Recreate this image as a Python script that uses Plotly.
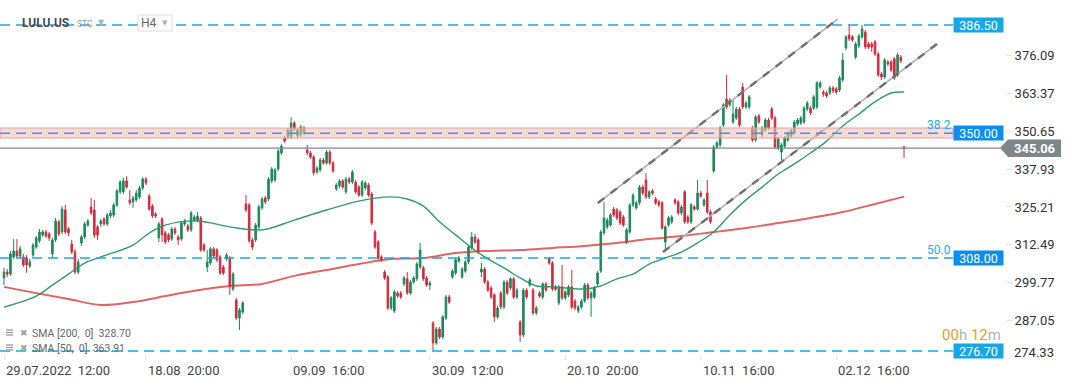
import plotly.graph_objects as go

# ---------------- data (H4 candles, LULU.US) ----------------
open_ = [
301.3, 303.3, 302.6, 308.4, 310.4, 308.7, 308.4, 308.0, 305.3, 309.0,
311.7, 313.8, 315.8, 316.8, 316.1, 309.4, 314.1, 320.2, 316.8, 324.2,
317.8, 312.7, 310.1, 303.3, 313.1, 315.1, 319.1, 325.2, 324.2, 318.5,
319.5, 321.2, 319.5, 322.2, 322.5, 325.9, 330.3, 330.3, 334.0, 327.6,
326.9, 327.6, 328.6, 331.6, 334.6, 328.9, 325.5, 322.8, 314.8, 321.2,
316.5, 315.8, 314.4, 317.8, 315.1, 314.4, 319.5, 318.8, 317.5, 320.8,
320.8, 321.5, 312.4, 305.0, 306.3, 311.1, 310.7, 308.4, 305.0, 307.7,
308.0, 297.6, 293.9, 287.8, 289.8, 326.2, 325.9, 314.1, 314.1, 318.5,
324.9, 328.2, 327.9, 334.0, 334.3, 338.0, 343.4, 348.4, 348.8, 348.8,
353.5, 349.1, 349.5, 350.1, 344.4, 343.4, 342.0, 337.0, 337.7, 341.0,
340.0, 343.7, 340.0, 331.3, 332.3, 334.0, 330.3, 334.6, 333.6, 333.6,
331.9, 329.2, 331.6, 332.6, 329.6, 316.8, 313.4, 308.4, 303.3, 301.6,
291.2, 290.2, 296.2, 296.2, 299.3, 301.0, 296.2, 299.9, 301.0, 305.0,
304.7, 301.3, 298.9, 286.1, 279.4, 284.1, 281.4, 287.8, 294.9, 301.6,
303.0, 307.0, 301.6, 303.6, 306.7, 311.4, 315.1, 314.1, 303.3, 304.3,
299.9, 297.9, 295.6, 288.2, 296.2, 291.5, 299.9, 297.9, 301.0, 294.9,
286.5, 282.1, 297.2, 298.9, 297.2, 289.5, 296.2, 294.9, 299.3, 307.7,
306.3, 298.3, 292.9, 298.3, 294.6, 295.6, 298.3, 293.5, 290.2, 291.5,
293.5, 298.9, 294.6, 294.9, 299.3, 303.6, 316.5, 318.5, 319.1, 324.5,
324.2, 323.5, 321.8, 313.4, 316.8, 325.9, 324.9, 326.6, 331.9, 334.3,
328.6, 330.6, 327.9, 326.9, 326.6, 313.4, 319.1, 320.2, 327.6, 326.9,
323.2, 330.3, 321.8, 320.2, 325.2, 324.5, 329.9, 325.9, 329.9, 323.5,
337.3, 345.4, 346.1, 352.8, 361.6, 359.6, 353.8, 355.2, 358.2, 365.6,
358.9, 358.9, 351.8, 347.8, 355.9, 349.5, 351.1, 354.5, 358.2, 355.2,
345.1, 343.7, 345.7, 347.8, 349.1, 350.1, 353.2, 353.5, 353.8, 358.2,
358.5, 358.5, 358.9, 365.6, 363.9, 363.6, 363.6, 365.3, 365.0, 364.6,
368.0, 378.8, 383.1, 382.5, 375.7, 379.4, 382.5, 384.1, 380.1, 380.1,
380.8, 376.7, 370.0, 369.0, 374.0, 374.0, 375.1, 369.7, 375.7, 345.4,
]
high = [
304.7, 304.3, 310.4, 314.4, 314.4, 312.1, 309.4, 309.0, 307.7, 313.1,
315.4, 317.8, 317.5, 317.5, 316.8, 314.8, 321.5, 320.8, 325.5, 325.9,
318.5, 314.1, 311.1, 307.7, 315.8, 320.2, 321.2, 328.2, 327.6, 319.1,
321.2, 321.8, 323.2, 324.2, 326.6, 331.3, 334.3, 335.0, 335.6, 330.9,
328.9, 330.9, 332.3, 335.3, 335.3, 329.6, 326.2, 323.5, 320.2, 321.8,
317.1, 316.5, 318.5, 318.5, 315.8, 320.5, 321.2, 319.5, 323.9, 322.5,
323.5, 322.2, 313.1, 310.7, 311.7, 311.7, 311.4, 309.0, 305.7, 309.7,
308.7, 303.3, 294.6, 291.2, 293.5, 329.2, 326.6, 314.8, 319.8, 325.9,
328.6, 328.9, 335.3, 338.7, 338.3, 344.7, 346.4, 349.1, 351.8, 355.5,
354.2, 351.8, 352.8, 352.5, 346.1, 344.1, 342.7, 339.0, 341.7, 341.7,
344.4, 344.4, 340.7, 333.3, 334.6, 334.6, 335.3, 335.3, 337.7, 334.3,
332.6, 334.3, 333.9, 333.3, 330.3, 317.5, 314.1, 309.0, 304.0, 302.3,
295.2, 297.2, 296.9, 296.9, 302.0, 303.3, 300.6, 302.0, 306.7, 313.1,
305.3, 302.0, 300.3, 286.8, 284.8, 284.8, 288.8, 295.6, 295.6, 304.3,
308.0, 308.7, 305.0, 307.4, 312.4, 316.8, 316.1, 314.8, 306.3, 305.0,
300.6, 298.6, 296.2, 291.9, 296.9, 300.6, 300.6, 301.6, 301.6, 297.9,
287.1, 297.9, 297.9, 301.3, 297.9, 291.9, 296.9, 299.9, 299.9, 308.4,
307.0, 298.9, 298.9, 305.7, 297.2, 298.9, 304.0, 294.2, 292.2, 294.2,
299.6, 299.6, 296.9, 298.6, 303.6, 317.5, 326.9, 321.5, 323.2, 325.2,
324.9, 324.2, 322.5, 318.1, 326.6, 329.9, 327.2, 332.6, 332.6, 336.7,
330.9, 331.3, 328.6, 327.6, 327.2, 319.1, 322.2, 322.5, 328.2, 327.6,
325.9, 330.9, 322.5, 326.6, 325.9, 334.3, 330.6, 328.2, 334.3, 324.2,
346.1, 347.4, 352.5, 360.2, 369.7, 361.9, 361.2, 358.9, 358.9, 367.0,
360.9, 362.9, 352.5, 356.2, 356.5, 352.5, 355.2, 355.2, 358.9, 355.9,
348.8, 346.8, 349.1, 350.8, 351.5, 354.5, 355.2, 355.9, 359.2, 360.9,
359.2, 362.9, 367.6, 367.6, 364.6, 364.3, 366.0, 366.0, 365.6, 369.3,
377.1, 383.1, 386.5, 383.1, 380.8, 383.5, 386.5, 384.8, 380.8, 380.8,
381.5, 377.4, 370.7, 375.4, 374.7, 374.7, 375.7, 377.1, 376.4, 345.7,
]
low = [
298.9, 301.6, 302.0, 307.7, 308.0, 308.0, 305.0, 303.0, 304.7, 308.4,
311.1, 313.1, 315.1, 314.8, 313.8, 308.0, 313.4, 315.4, 316.1, 316.1,
315.4, 309.4, 302.6, 302.6, 312.1, 314.4, 318.5, 322.5, 314.8, 314.1,
318.5, 318.8, 318.8, 321.5, 321.8, 325.2, 329.6, 329.6, 331.3, 325.9,
324.9, 326.9, 327.9, 330.9, 332.6, 323.9, 321.5, 321.5, 313.4, 313.4,
312.7, 313.4, 313.8, 315.8, 312.4, 313.8, 318.8, 316.8, 316.8, 320.2,
320.2, 310.1, 310.1, 303.3, 305.7, 308.0, 306.7, 302.3, 302.3, 307.0,
295.6, 296.9, 287.1, 283.8, 289.2, 323.5, 313.1, 310.7, 313.4, 317.8,
324.2, 326.2, 327.2, 333.3, 333.6, 337.3, 342.7, 346.8, 348.1, 348.1,
350.8, 348.4, 348.8, 349.5, 342.7, 341.4, 336.0, 336.3, 337.0, 339.4,
339.4, 339.4, 336.7, 330.6, 331.6, 331.3, 329.6, 332.9, 332.9, 329.6,
328.6, 328.6, 330.9, 328.6, 319.1, 311.1, 307.4, 306.7, 300.6, 290.5,
290.5, 289.5, 294.6, 294.2, 298.6, 295.6, 295.6, 299.3, 300.3, 304.3,
300.3, 298.3, 297.2, 277.0, 278.7, 280.7, 280.7, 287.1, 292.5, 301.0,
302.3, 306.3, 301.0, 303.0, 306.0, 310.7, 312.7, 309.4, 301.6, 299.3,
296.6, 294.2, 286.5, 287.5, 290.8, 290.8, 295.6, 297.2, 294.2, 294.2,
279.7, 281.4, 294.2, 298.3, 288.8, 288.8, 294.6, 294.2, 296.6, 305.7,
296.9, 296.9, 292.2, 293.9, 293.9, 294.9, 290.8, 290.5, 289.5, 290.8,
292.9, 293.9, 288.2, 294.2, 298.6, 303.0, 315.8, 317.8, 318.5, 321.8,
320.8, 319.1, 318.5, 312.7, 316.1, 325.2, 324.2, 325.9, 329.2, 327.9,
327.9, 329.2, 325.9, 325.2, 317.5, 310.7, 318.5, 319.5, 325.9, 322.5,
322.5, 319.5, 319.5, 319.5, 323.9, 323.9, 328.2, 325.2, 322.8, 319.5,
336.7, 344.7, 345.4, 352.1, 358.2, 358.9, 353.2, 354.5, 352.1, 358.2,
358.2, 358.2, 347.1, 347.1, 353.2, 348.8, 350.5, 351.1, 354.5, 344.7,
344.4, 341.0, 345.1, 347.1, 348.4, 349.5, 352.5, 352.8, 353.2, 357.5,
356.2, 357.9, 358.2, 365.0, 362.3, 361.9, 362.9, 363.6, 363.3, 363.9,
367.3, 378.1, 381.1, 380.8, 375.0, 378.8, 381.8, 378.4, 378.4, 377.4,
376.1, 369.0, 368.0, 368.3, 372.7, 370.7, 368.0, 369.0, 373.7, 341.7,
]
close = [
303.3, 302.6, 309.4, 310.4, 308.7, 311.1, 305.7, 305.7, 306.7, 312.4,
314.8, 316.8, 316.8, 315.4, 314.8, 314.1, 320.5, 316.1, 324.5, 316.8,
316.5, 310.1, 303.3, 306.7, 315.1, 319.5, 320.5, 323.2, 315.8, 315.8,
320.5, 319.5, 322.5, 323.2, 325.9, 330.6, 333.6, 334.0, 331.9, 326.6,
328.2, 329.9, 331.6, 334.6, 333.3, 324.5, 322.2, 322.2, 319.5, 315.8,
313.4, 314.1, 317.8, 316.5, 314.1, 319.8, 320.5, 317.5, 323.2, 321.8,
322.2, 310.7, 310.7, 306.7, 311.1, 308.7, 307.4, 303.0, 303.0, 309.0,
298.3, 302.6, 287.8, 290.5, 292.9, 324.2, 313.8, 311.7, 319.1, 325.2,
327.9, 326.9, 334.6, 338.0, 337.7, 344.1, 345.7, 347.4, 351.1, 353.5,
351.5, 351.1, 352.1, 351.8, 343.4, 342.0, 336.7, 338.3, 341.0, 340.0,
343.7, 340.0, 337.3, 332.6, 334.0, 331.9, 334.6, 333.6, 337.0, 330.3,
329.2, 333.6, 333.3, 329.2, 319.8, 311.7, 308.0, 307.4, 301.3, 291.2,
294.6, 296.6, 295.2, 294.9, 301.3, 296.2, 299.9, 301.3, 306.0, 310.7,
301.0, 298.9, 299.6, 279.4, 284.1, 281.4, 288.2, 294.9, 293.2, 303.6,
307.4, 308.0, 304.3, 306.7, 311.7, 315.1, 313.4, 310.1, 304.3, 299.9,
297.2, 294.9, 288.2, 291.2, 291.5, 299.9, 296.2, 301.0, 294.9, 297.2,
282.1, 297.2, 294.9, 300.6, 289.5, 291.2, 295.2, 299.3, 297.2, 306.3,
297.6, 297.6, 298.3, 294.6, 296.6, 298.3, 291.5, 291.2, 291.5, 293.5,
298.9, 294.6, 296.2, 297.9, 303.0, 316.8, 321.5, 320.8, 322.5, 322.5,
321.5, 319.8, 319.1, 317.5, 325.9, 329.2, 326.6, 331.9, 329.9, 328.6,
330.3, 329.9, 326.6, 325.9, 318.1, 318.5, 321.5, 321.8, 326.6, 323.2,
325.2, 320.2, 320.2, 325.9, 324.5, 329.9, 328.9, 327.6, 323.5, 320.2,
345.4, 346.8, 351.8, 359.6, 358.9, 361.2, 356.5, 358.2, 352.8, 358.9,
360.2, 362.3, 347.8, 355.5, 353.8, 351.8, 354.5, 351.8, 355.2, 345.4,
348.1, 346.1, 348.4, 350.1, 350.8, 353.8, 354.5, 355.2, 358.5, 360.2,
356.9, 362.3, 367.0, 367.0, 363.3, 362.6, 365.3, 364.3, 363.9, 368.7,
374.7, 382.5, 381.8, 381.5, 380.1, 382.8, 385.2, 379.1, 379.1, 379.1,
376.7, 369.7, 369.0, 374.7, 373.4, 371.3, 368.7, 376.4, 374.4, 345.06,
]

sma200_idx = [0, 10, 20, 30, 40, 50, 60, 70, 80, 90, 100, 110, 120, 130, 140,
              150, 160, 170, 180, 190, 200, 210, 220, 230, 240, 250, 260, 270, 279]
sma200_val = [298.3, 296.2, 294.2, 292.2, 293.2, 295.2, 297.2, 298.6, 299.3, 302.0,
              304.0, 306.0, 307.7, 308.0, 309.7, 310.4, 310.7, 311.4, 312.1, 313.1,
              314.4, 315.4, 316.8, 318.1, 319.8, 321.5, 323.5, 326.2, 328.70]

sma50_idx = [0, 10, 15, 20, 25, 30, 40, 45, 50, 60, 70, 80, 90, 100, 110, 120, 125,
             130, 135, 140, 145, 150, 155, 160, 165, 170, 180, 185, 190, 195, 200,
             205, 210, 215, 220, 225, 230, 235, 240, 245, 250, 255, 260, 265, 270,
             275, 279]
sma50_val = [291.5, 295.2, 298.9, 302.6, 306.3, 308.4, 312.4, 316.4, 319.1, 320.5,
             318.5, 317.5, 320.8, 324.2, 327.2, 328.6, 327.9, 325.5, 320.2, 315.8,
             311.4, 307.7, 304.7, 301.3, 298.6, 298.3, 297.6, 298.6, 301.0, 302.6,
             306.0, 308.0, 310.0, 313.1, 316.8, 322.5, 327.6, 331.9, 336.3, 339.7,
             343.4, 347.4, 352.5, 356.5, 360.6, 363.6, 363.91]

channel_upper = [(184.1, 326.55), (258.5, 388.52)]
channel_lower = [(204.3, 310.05), (289.2, 380.10)]

x_tick_idx = [0, 44, 89, 132, 174, 216, 258]
x_tick_text = ["29.07.2022  12:00", "18.08  20:00", "09.09  16:00", "30.09  12:00",
               "20.10  20:00", "10.11  16:00", "02.12  16:00"]
y_tick_vals = [287.05, 299.77, 312.49, 325.21, 337.93, 350.65, 363.37, 376.09]
y_bottom_label = "274.33"

levels = [386.50, 350.00, 308.00, 276.70]
level_box_colors = ["#19a6e6", "#0a8ef0", "#0a8ef0", "#19a6e6"]
zone_low, zone_high = 348.44, 351.81
fib_labels = [(350.00, "38.2"), (308.00, "50.0")]
last_price = 345.06
sma_legend = ["SMA [200,  0]  328.70", "SMA [50,  0]  363.91"]

# ---------------- figure ----------------
n = min(len(open_), len(high), len(low), len(close))
xs = list(range(n))

W, H = 1072, 382
ML, MR, MT, MB = 0, 67, 0, 22
PW, PH = W - ML - MR, H - MT - MB
Y_MIN, Y_MAX = 273.67, 394.92
X_MIN, X_MAX = -1.24, 310.3


def px(xp):
    return xp / PW


def py(yp):
    return (PH - yp) / PH


def yprice(yp):
    return Y_MAX - (Y_MAX - Y_MIN) * yp / PH


GREEN = "#1b8a59"
RED = "#d42c3e"
BLUE = "#1aa6e8"
FONT = "Roboto"

fig = go.Figure()

fig.add_trace(go.Scatter(x=sma200_idx, y=sma200_val, mode="lines",
                         line=dict(color="rgba(214,50,50,0.75)", width=2.0, shape="spline"),
                         hoverinfo="skip", showlegend=False))
fig.add_trace(go.Scatter(x=sma50_idx, y=sma50_val, mode="lines",
                         line=dict(color="rgba(40,150,102,0.95)", width=1.4, shape="spline"),
                         hoverinfo="skip", showlegend=False))

fig.add_trace(go.Candlestick(
    x=xs, open=open_[:n], high=high[:n], low=low[:n], close=close[:n],
    increasing=dict(line=dict(color=GREEN, width=1), fillcolor=GREEN),
    decreasing=dict(line=dict(color=RED, width=1), fillcolor=RED),
    whiskerwidth=0, showlegend=False, hoverinfo="skip"))

for ch in (channel_upper, channel_lower):
    cx = [p[0] for p in ch]
    cy = [p[1] for p in ch]
    fig.add_trace(go.Scatter(x=cx, y=cy, mode="lines",
                             line=dict(color="#b4b4b4", width=1.6),
                             hoverinfo="skip", showlegend=False))
    fig.add_trace(go.Scatter(x=cx, y=cy, mode="lines",
                             line=dict(color="#6f6f6f", width=2.4, dash="8px,8px"),
                             hoverinfo="skip", showlegend=False))

shapes = []
box_left = 953
# pink zone
shapes.append(dict(type="rect", xref="paper", yref="y", x0=0, x1=px(box_left),
                   y0=zone_low, y1=zone_high, fillcolor="rgba(248,188,188,0.55)",
                   line=dict(color="rgba(240,150,150,0.9)", width=1), layer="above"))
# last price line
shapes.append(dict(type="line", xref="paper", yref="y", x0=0, x1=px(1000),
                   y0=last_price, y1=last_price, line=dict(color="#7f8a8e", width=1.2),
                   layer="above"))
# level dashed lines
for lv in levels:
    shapes.append(dict(type="line", xref="paper", yref="y", x0=0, x1=px(box_left),
                       y0=lv, y1=lv, line=dict(color=BLUE, width=1.5, dash="10px,6px"),
                       layer="above"))
# current price tag
tip, left, right = 1000, 1008, 1061
ytop, ybot = yprice(139.5), yprice(157)
shapes.append(dict(type="path", xref="paper", yref="y",
                   path=f"M {px(tip)} {last_price} L {px(left)} {ytop} L {px(right)} {ytop} "
                        f"L {px(right)} {ybot} L {px(left)} {ybot} Z",
                   fillcolor="#7d878b", line=dict(width=0), layer="above"))
# H4 box
shapes.append(dict(type="rect", xref="paper", yref="paper", x0=px(138), x1=px(172),
                   y0=py(31), y1=py(15), fillcolor="white",
                   line=dict(color="#dedede", width=1), layer="above"))
# legend icons
for yy in (333, 348):
    for k in range(3):
        shapes.append(dict(type="line", xref="paper", yref="paper",
                           x0=px(6), x1=px(13), y0=py(yy - 3 + k * 2.5), y1=py(yy - 3 + k * 2.5),
                           line=dict(color="#9a9a9a", width=1.3), layer="above"))

ann = []
for lv, col in zip(levels, level_box_colors):
    ann.append(dict(xref="paper", yref="y", x=px(box_left), y=lv, xanchor="left",
                    yanchor="middle", text=f"{lv:.2f}", showarrow=False,
                    font=dict(family=FONT, size=12.5, color="white"),
                    bgcolor=col, width=47, height=12, borderpad=1, align="center"))
for lv, t in fib_labels:
    ann.append(dict(xref="paper", yref="y", x=px(953), y=lv, xanchor="right",
                    yanchor="middle", yshift=8, text=t, showarrow=False,
                    font=dict(family=FONT, size=12, color="#2aa8ea")))
ann.append(dict(xref="paper", yref="y", x=px((left + right) / 2), y=last_price,
                xanchor="center", yanchor="middle", text=f"<b>{last_price:.2f}</b>",
                showarrow=False, font=dict(family=FONT, size=13, color="white")))
ann.append(dict(xref="paper", yref="paper", x=px(1003), y=py(335), xanchor="right",
                yanchor="middle", showarrow=False,
                text="<span style='color:#f59d1c'>00</span><span style='color:#b3b3b3'>h</span> "
                     "<span style='color:#f59d1c'>12</span><span style='color:#b3b3b3'>m</span>",
                font=dict(family=FONT, size=15)))
# bottom y label (clamped above the edge as in the reference)
ann.append(dict(xref="paper", yref="paper", x=px(1012), y=py(352), xanchor="left",
                yanchor="middle", text=y_bottom_label, showarrow=False,
                font=dict(family=FONT, size=13, color="#333333")))
# header
ann.append(dict(xref="paper", yref="paper", x=px(20), y=py(23), xanchor="left",
                yanchor="middle", text="<b>LULU.US</b>", showarrow=False,
                font=dict(family=FONT, size=12, color="#4a4a4a")))
ann.append(dict(xref="paper", yref="paper", x=px(75), y=py(24), xanchor="left",
                yanchor="middle", text="STC", showarrow=False,
                font=dict(family=FONT, size=8.5, color="#9b9b9b")))
ann.append(dict(xref="paper", yref="paper", x=px(101), y=py(22), xanchor="center",
                yanchor="middle", text="▼", showarrow=False,
                font=dict(family="DejaVu Sans", size=8, color="#b0b0b0")))
ann.append(dict(xref="paper", yref="paper", x=px(149), y=py(23), xanchor="center",
                yanchor="middle", text="H4", showarrow=False,
                font=dict(family=FONT, size=12, color="#666666")))
ann.append(dict(xref="paper", yref="paper", x=px(165), y=py(23), xanchor="center",
                yanchor="middle", text="▼", showarrow=False,
                font=dict(family="DejaVu Sans", size=7, color="#b0b0b0")))
# sma legend
for yy, t in zip((333, 348), sma_legend):
    ann.append(dict(xref="paper", yref="paper", x=px(23.5), y=py(yy), xanchor="center",
                    yanchor="middle", text="✖", showarrow=False,
                    font=dict(family="DejaVu Sans", size=9, color="#a0a0a0")))
    ann.append(dict(xref="paper", yref="paper", x=px(30), y=py(yy), xanchor="left",
                    yanchor="middle", text=t, showarrow=False,
                    font=dict(family=FONT, size=10.5, color="#666666")))
# x labels (left aligned at tick)
for xi, t in zip(x_tick_idx, x_tick_text):
    ann.append(dict(xref="x", yref="paper", x=xi, y=0, xanchor="left", yanchor="top",
                    yshift=-1, text=t, showarrow=False,
                    font=dict(family=FONT, size=13, color="#444444")))

fig.update_layout(
    width=W, height=H,
    margin=dict(l=ML, r=MR, t=MT, b=MB, pad=0),
    paper_bgcolor="white", plot_bgcolor="white",
    showlegend=False, hovermode=False,
    shapes=shapes, annotations=ann,
    xaxis=dict(range=[X_MIN, X_MAX], showgrid=False, zeroline=False, showline=False,
               showticklabels=False, tickvals=x_tick_idx, ticks="inside", ticklen=5,
               tickcolor="#e6e6e6", rangeslider=dict(visible=False), fixedrange=True),
    yaxis=dict(range=[Y_MIN, Y_MAX], side="right", showgrid=False, zeroline=False,
               showline=False, tickvals=y_tick_vals,
               ticktext=[f"{v:.2f}" for v in y_tick_vals], ticks="outside", ticklen=6,
               tickcolor="#e4e4e4", tickfont=dict(family=FONT, size=13, color="#333333"),
               fixedrange=True),
)

fig.write_html("out.html", config={"displayModeBar": False},
               post_script="document.body.style.margin='0';document.body.style.overflow='hidden';")
